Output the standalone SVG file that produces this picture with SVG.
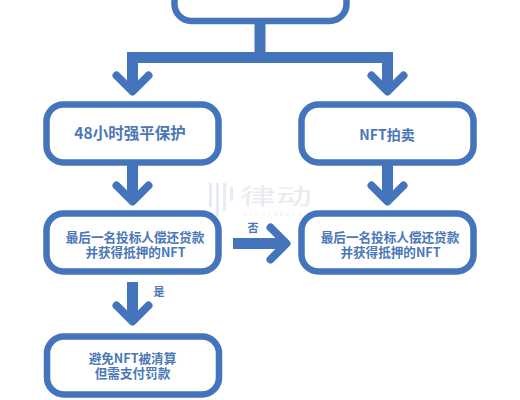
<svg xmlns="http://www.w3.org/2000/svg" width="520" height="400" viewBox="0 0 520 400">
<style>
.n{fill:#fff;stroke:#4374BC;stroke-width:6.5}
.t{font-family:"Noto Sans CJK SC","Noto Sans",sans-serif;font-weight:700;font-size:12.600px;fill:#4A77B8;text-anchor:middle}
.s{fill:none;stroke:#4374BC;stroke-width:11}
.h{fill:none;stroke:#4374BC;stroke-width:8;stroke-linecap:round;stroke-linejoin:round}
.b{fill:#E6EBF5}
</style>
<rect width="520" height="400" fill="#fff"/>
<g id="watermark">
<rect class="b" x="209" y="183" width="3" height="24"/><rect class="b" x="216" y="183" width="3" height="34"/><rect class="b" x="223" y="183" width="3" height="28"/><rect class="b" x="230" y="187" width="3" height="14"/>
<text x="240" y="204" font-family="'Noto Sans CJK SC',sans-serif" font-size="22" textLength="72" lengthAdjust="spacingAndGlyphs" fill="#E9EBF0">律动</text>
<text x="243" y="216" font-family="'Liberation Sans',sans-serif" font-size="6" textLength="58" fill="#F0F1F5">BLOCKBEATS</text>
</g>
<g id="connectors">
<path class="s" d="M260 24V57.500M127 57.500H393M132.500 52V88M387.500 52V88M132.500 160V198M387.500 160V198M132.500 282V322M233 243.500H285"/>
<path class="h" d="M116.500 75.500L132.500 91.500L148.500 75.500M371.500 75.500L387.500 91.500L403.500 75.500M116.500 185.500L132.500 201.500L148.500 185.500M371.500 185.500L387.500 201.500L403.500 185.500M116.500 305.500L132.500 321.500L148.500 305.500M270.500 227.500L286.500 243.500L270.500 259.500"/>
</g>
<g id="node-top"><rect class="n" x="174.500" y="-40" width="172" height="61" rx="17"/></g>
<g id="node-protect"><rect class="n" x="46.500" y="104.500" width="172" height="58" rx="17"/><text class="t" x="130" y="138.500" style="font-size:15.500px">48小时强平保护</text></g>
<g id="node-auction"><rect class="n" x="301.500" y="104.500" width="172" height="58" rx="17"/><text class="t" x="387" y="140" style="font-size:14px">NFT拍卖</text></g>
<g id="node-bidder-left"><rect class="n" x="46.500" y="213.500" width="172" height="58" rx="17"/><text class="t"><tspan x="135" y="241.500">最后一名投标人偿还贷款</tspan><tspan x="135.500" y="256.500">并获得抵押的NFT</tspan></text></g>
<g id="node-bidder-right"><rect class="n" x="301.500" y="213.500" width="172" height="58" rx="17"/><text class="t"><tspan x="390" y="241.500">最后一名投标人偿还贷款</tspan><tspan x="390.500" y="256.500">并获得抵押的NFT</tspan></text></g>
<g id="node-avoid"><rect class="n" x="47" y="336.500" width="172" height="58" rx="17"/><text class="t"><tspan x="132.500" y="362.500">避免NFT被清算</tspan><tspan x="132.500" y="377.500">但需支付罚款</tspan></text></g>
<g id="labels"><text class="t" x="253" y="232" style="font-size:11px">否</text><text class="t" x="159" y="296" style="font-size:11px">是</text></g>
</svg>
